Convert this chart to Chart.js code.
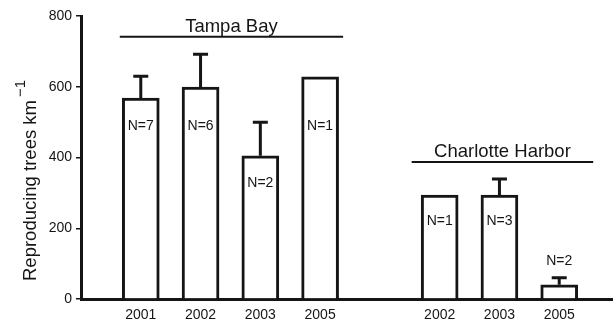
<!DOCTYPE html>
<html>
<head>
<meta charset="utf-8">
<script src="https://cdn.jsdelivr.net/npm/chart.js@4.4.1/dist/chart.umd.min.js"></script>
<style>
  html, body { margin: 0; padding: 0; background: #fff; overflow: hidden; }
  #wrap { width: 613px; height: 323px; overflow: hidden; }
</style>
</head>
<body>
<div id="wrap"><canvas id="chart" width="627" height="323"></canvas></div>
<script>
// slots: empty, Tampa Bay x4, gap, Charlotte Harbor x3, empty
const years = ['', '2001', '2002', '2003', '2005', '', '2002', '2003', '2005', ''];
const trees = [null, 568, 599, 405, 628, null, 294, 294, 40, null];
const errTop = [null, 630, 692, 500, null, null, null, 339, 60, null];
const nText = ['', 'N=7', 'N=6', 'N=2', 'N=1', '', 'N=1', 'N=3', 'N=2', ''];
const yTicks = [0, 200, 400, 600, 800];
const groups = [
  { name: 'Tampa Bay', first: 1, last: 4 },
  { name: 'Charlotte Harbor', first: 6, last: 8 }
];

// where the N= text and group headings sit (value units)
const nAt = [null, 489, 489, 328, 489, null, 220, 220, 107, null];
const groupAt = [741, 387];
const groupPad = [[21, 23], [28, 34]];

Chart.defaults.font.family = "'Liberation Sans', Arial, sans-serif";
Chart.defaults.color = '#111';

const ink = '#151515';

const extras = {
  id: 'extras',
  afterDatasetsDraw(chart) {
    const ctx = chart.ctx;
    const x = chart.scales.x;
    const y = chart.scales.y;
    const meta = chart.getDatasetMeta(0);
    ctx.save();
    ctx.strokeStyle = ink;
    ctx.fillStyle = ink;

    // error bars
    ctx.lineWidth = 3;
    meta.data.forEach((bar, i) => {
      if (errTop[i] == null || trees[i] == null) return;
      const top = y.getPixelForValue(errTop[i]);
      ctx.beginPath();
      ctx.moveTo(bar.x, bar.y);
      ctx.lineTo(bar.x, top);
      ctx.moveTo(bar.x - 7.5, top);
      ctx.lineTo(bar.x + 7.5, top);
      ctx.stroke();
    });

    // N= labels
    ctx.font = "14px 'Liberation Sans', Arial, sans-serif";
    ctx.textAlign = 'center';
    ctx.textBaseline = 'middle';
    nText.forEach((t, i) => {
      if (!t) return;
      ctx.fillText(t, x.getPixelForValue(i), y.getPixelForValue(nAt[i]));
    });

    // group headings
    ctx.lineWidth = 2;
    ctx.font = "18.5px 'Liberation Sans', Arial, sans-serif";
    ctx.textBaseline = 'alphabetic';
    groups.forEach((g, k) => {
      const x0 = x.getPixelForValue(g.first) - groupPad[k][0];
      const x1 = x.getPixelForValue(g.last) + groupPad[k][1];
      const ly = y.getPixelForValue(groupAt[k]);
      ctx.beginPath();
      ctx.moveTo(x0, ly);
      ctx.lineTo(x1, ly);
      ctx.stroke();
      ctx.fillText(g.name, (x0 + x1) / 2, ly - 5);
    });

    // y axis title with superscript
    ctx.translate(36, 281);
    ctx.rotate(-Math.PI / 2);
    ctx.textAlign = 'left';
    ctx.font = "18.5px 'Liberation Sans', Arial, sans-serif";
    const main = 'Reproducing trees km';
    ctx.fillText(main, 0, 0);
    const w = ctx.measureText(main).width;
    ctx.font = "15px 'Liberation Sans', Arial, sans-serif";
    ctx.fillText('\u22121', w + 3, -11);
    ctx.restore();
  }
};

new Chart(document.getElementById('chart'), {
  type: 'bar',
  data: {
    labels: years,
    datasets: [{
      data: trees,
      backgroundColor: '#fff',
      borderColor: ink,
      borderWidth: 3,
      barThickness: 37
    }]
  },
  options: {
    responsive: false,
    animation: false,
    layout: { padding: { top: 16, left: 0, right: 0, bottom: 0 } },
    plugins: { legend: { display: false }, tooltip: { enabled: false } },
    scales: {
      x: {
        offset: false,
        grid: { display: false, drawTicks: false },
        border: { display: true, width: 3, color: ink },
        ticks: { padding: 8, font: { size: 14 }, color: ink, maxRotation: 0, autoSkip: false },
        afterFit(scale) { scale.height = 24; }
      },
      y: {
        min: 0,
        max: 800,
        afterBuildTicks(scale) { scale.ticks = yTicks.map(v => ({ value: v })); },
        grid: { display: true, drawOnChartArea: false, drawTicks: true, tickLength: 5, lineWidth: 1.5, color: ink },
        border: { display: true, width: 3, color: ink },
        ticks: { padding: 4, font: { size: 14 }, color: ink },
        afterFit(scale) { scale.width = 81; }
      }
    }
  },
  plugins: [extras]
});
</script>
</body>
</html>
